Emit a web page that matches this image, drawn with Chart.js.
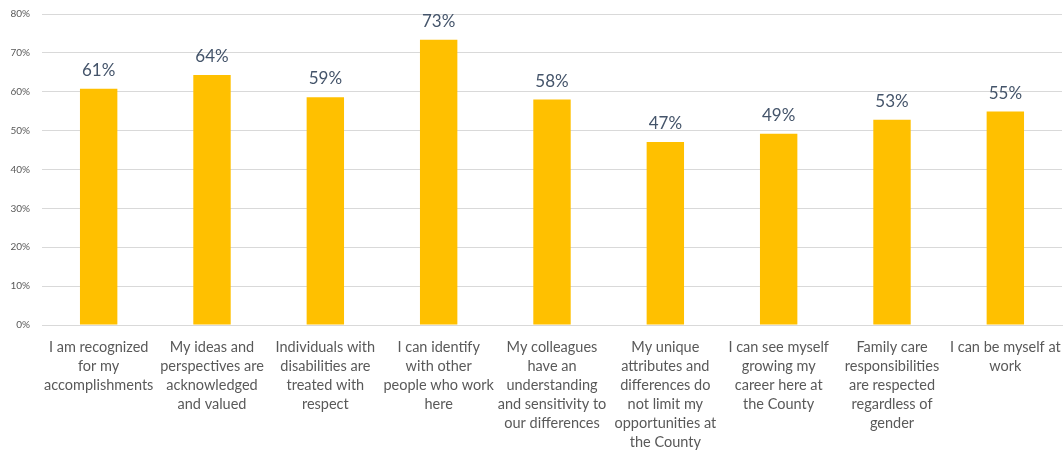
<!DOCTYPE html>
<html>
<head>
<meta charset="utf-8">
<script src="https://cdn.jsdelivr.net/npm/chart.js@4"></script>
<style>
  html, body { margin: 0; padding: 0; background: #fff; }
  .container { position: relative; width: 1064px; height: 452px; }
</style>
</head>
<body>
<div class="container"><canvas id="chart"></canvas></div>
<script>
const labels = [
  ["I am recognized", "for my", "accomplishments"],
  ["My ideas and", "perspectives are", "acknowledged", "and valued"],
  ["Individuals with", "disabilities are", "treated with", "respect"],
  ["I can identify", "with other", "people who work", "here"],
  ["My colleagues", "have an", "understanding", "and sensitivity to", "our differences"],
  ["My unique", "attributes and", "differences do", "not limit my", "opportunities at", "the County"],
  ["I can see myself", "growing my", "career here at", "the County"],
  ["Family care", "responsibilities", "are respected", "regardless of", "gender"],
  ["I can be myself at", "work"],
];
const values = [60.8, 64.3, 58.6, 73.4, 58.0, 47.1, 49.2, 52.8, 54.9];
const yTicks = [0, 10, 20, 30, 40, 50, 60, 70, 80];

const mainColor = "#FFC000";

// draws the percent above each bar
const barLabels = {
  id: "barLabels",
  afterDatasetsDraw(chart) {
    const ctx = chart.ctx;
    const meta = chart.getDatasetMeta(0);
    ctx.save();
    ctx.font = "17px Lato";
    ctx.fillStyle = "#44546A";
    ctx.textAlign = "center";
    ctx.textBaseline = "bottom";
    meta.data.forEach((bar, i) => {
      ctx.fillText(Math.round(values[i]) + "%", bar.x, bar.y - 10);
    });
    ctx.restore();
  },
};

new Chart(document.getElementById("chart"), {
  type: "bar",
  data: {
    labels: labels,
    datasets: [
      {
        data: values,
        backgroundColor: mainColor,
        borderWidth: 0,
        barPercentage: 0.66,
        categoryPercentage: 0.5,
      },
    ],
  },
  options: {
    responsive: true,
    maintainAspectRatio: false,
    animation: false,
    layout: { padding: { top: 0, right: 2, left: 0, bottom: 0 } },
    plugins: {
      legend: { display: false },
      title: { display: false },
      tooltip: { enabled: false },
    },
    scales: {
      x: {
        border: { color: "#D9D9D9", width: 1 },
        grid: { display: false },
        afterFit: (s) => {
          s.height = 127;
          s.paddingLeft = 0;
          s.paddingRight = 0;
        },
        ticks: {
          color: "#595959",
          font: { family: "Lato", size: 14.5, lineHeight: 1.31 },
          maxRotation: 0,
          autoSkip: false,
          padding: 5,
        },
      },
      y: {
        min: 0,
        max: 80,
        border: { display: false },
        grid: { color: "#D9D9D9", drawTicks: false },
        afterFit: (s) => {
          s.width = 42;
          s.paddingTop = 14;
          s.paddingBottom = 0;
        },
        afterBuildTicks: (axis) => {
          axis.ticks = yTicks.map((v) => ({ value: v }));
        },
        ticks: {
          color: "#595959",
          font: { family: "Lato", size: 10 },
          padding: 12,
          callback: (v) => v + "%",
        },
      },
    },
  },
  plugins: [barLabels],
});
</script>
</body>
</html>
